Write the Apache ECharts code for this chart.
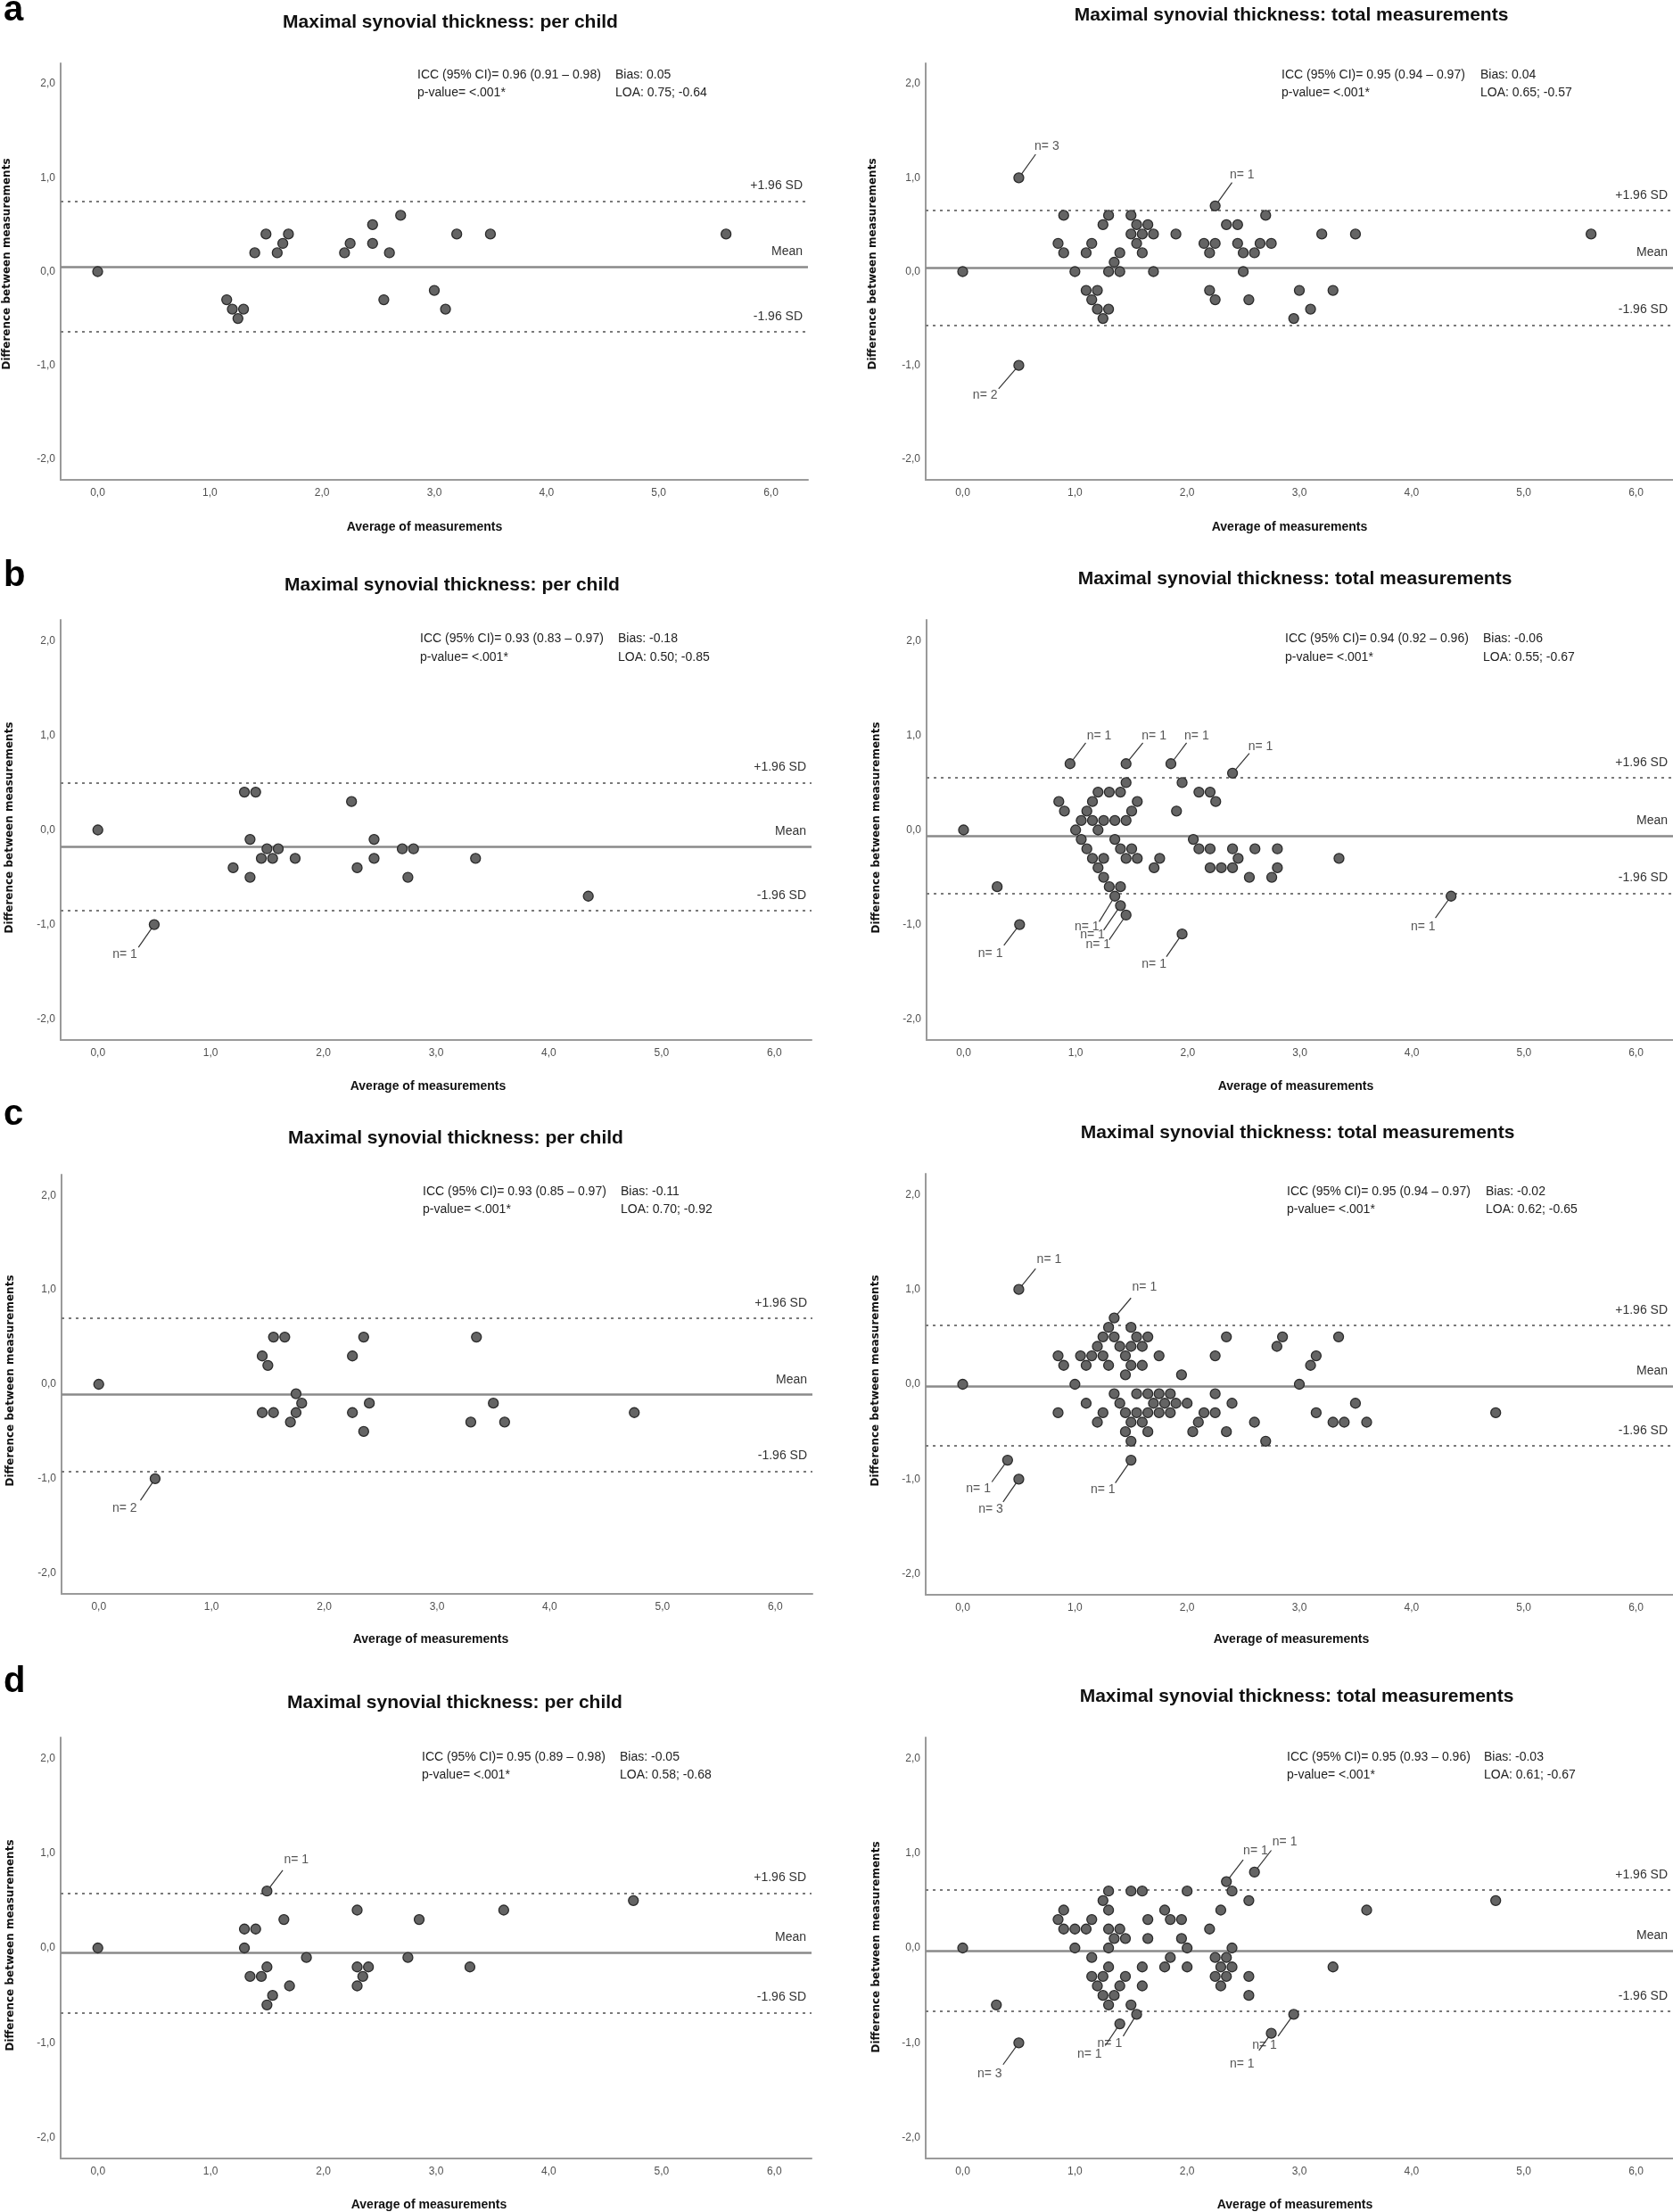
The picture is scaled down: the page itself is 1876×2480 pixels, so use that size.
<!DOCTYPE html>
<html>
<head>
<meta charset="utf-8">
<script src="https://cdn.jsdelivr.net/npm/echarts@6/dist/echarts.min.js"></script>
<style>
  html, body { margin: 0; padding: 0; background: #ffffff; }
  #chart { width: 1876px; height: 2480px; }
</style>
</head>
<body>
<div id="chart"></div>
<script>
// ---------- tick labels ----------
const xTicks = [0, 1, 2, 3, 4, 5, 6];
const yTicks = [-2, -1, 0, 1, 2];
const panelLetters = ['a', 'b', 'c', 'd'];
const titlePerChild = 'Maximal synovial thickness: per child';
const titleTotal = 'Maximal synovial thickness: total measurements';
const xAxisName = 'Average of measurements';
const yAxisName = 'Difference between measurements';

// ---------- panel a ----------
const aChildX = [0, 1.15, 1.2, 1.25, 1.3, 1.4, 1.5, 1.6, 1.65, 1.7, 2.2, 2.25, 2.45, 2.45, 2.55, 2.6, 2.7, 3.0, 3.1, 3.2, 3.5, 5.6];
const aChildY = [0, -0.3, -0.4, -0.5, -0.4, 0.2, 0.4, 0.2, 0.3, 0.4, 0.2, 0.3, 0.5, 0.3, -0.3, 0.2, 0.6, -0.2, -0.4, 0.4, 0.4, 0.4];
const aChildStats = ['0.96 (0.91 – 0.98)', 0.05, 0.75, -0.64];
const aChildNotes = [];

const aTotalX = [0, 0.5, 0.5, 0.85, 0.9, 0.9, 1.0, 1.1, 1.1, 1.15, 1.15, 1.2, 1.2, 1.25, 1.25, 1.3, 1.3, 1.3, 1.35, 1.4, 1.4, 1.5, 1.5, 1.55, 1.55, 1.6, 1.6, 1.65, 1.7, 1.7, 1.9, 2.15, 2.2, 2.2, 2.25, 2.25, 2.25, 2.35, 2.45, 2.45, 2.5, 2.5, 2.55, 2.6, 2.65, 2.7, 2.75, 2.95, 3.0, 3.1, 3.2, 3.3, 3.5, 5.6];
const aTotalY = [0, 1.0, -1.0, 0.3, 0.6, 0.2, 0, 0.2, -0.2, 0.3, -0.3, -0.2, -0.4, 0.5, -0.5, 0.6, 0, -0.4, 0.1, 0.2, 0, 0.6, 0.4, 0.5, 0.3, 0.4, 0.2, 0.5, 0.4, 0, 0.4, 0.3, 0.2, -0.2, 0.7, 0.3, -0.3, 0.5, 0.5, 0.3, 0.2, 0, -0.3, 0.2, 0.3, 0.6, 0.3, -0.5, -0.2, -0.4, 0.4, -0.2, 0.4, 0.4];
const aTotalStats = ['0.95 (0.94 – 0.97)', 0.04, 0.65, -0.57];
// [pointX, pointY, leaderEndX, leaderEndY, labelX, labelY, text]
const aTotalNotes = [
  [0.5, 1.0, 0.65, 1.25, 0.75, 1.33, 'n= 3'],
  [2.25, 0.7, 2.4, 0.95, 2.49, 1.03, 'n= 1'],
  [0.5, -1.0, 0.32, -1.25, 0.2, -1.32, 'n= 2']
];

// ---------- panel b ----------
const bChildX = [0, 0.5, 1.2, 1.3, 1.35, 1.35, 1.4, 1.45, 1.5, 1.55, 1.6, 1.75, 2.25, 2.3, 2.45, 2.45, 2.7, 2.75, 2.8, 3.35, 4.35];
const bChildY = [0, -1.0, -0.4, 0.4, -0.1, -0.5, 0.4, -0.3, -0.2, -0.3, -0.2, -0.3, 0.3, -0.4, -0.1, -0.3, -0.2, -0.5, -0.2, -0.3, -0.7];
const bChildStats = ['0.93 (0.83 – 0.97)', -0.18, 0.50, -0.85];
const bChildNotes = [
  [0.5, -1.0, 0.36, -1.24, 0.24, -1.32, 'n= 1']
];

const bTotalX = [0, 0.3, 0.5, 0.85, 0.9, 0.95, 1.0, 1.05, 1.05, 1.1, 1.1, 1.15, 1.15, 1.15, 1.2, 1.2, 1.2, 1.25, 1.25, 1.25, 1.3, 1.3, 1.35, 1.35, 1.35, 1.4, 1.4, 1.4, 1.4, 1.45, 1.45, 1.45, 1.45, 1.45, 1.5, 1.5, 1.55, 1.55, 1.7, 1.75, 1.85, 1.9, 1.95, 1.95, 2.05, 2.1, 2.1, 2.2, 2.2, 2.2, 2.25, 2.3, 2.4, 2.4, 2.4, 2.45, 2.55, 2.6, 2.75, 2.8, 2.8, 3.35, 4.35];
const bTotalY = [0, -0.6, -1.0, 0.3, 0.2, 0.7, 0, 0.1, -0.1, 0.2, -0.2, 0.3, 0.1, -0.3, 0.4, 0, -0.4, 0.1, -0.3, -0.5, 0.4, -0.6, 0.1, -0.1, -0.7, 0.4, -0.2, -0.6, -0.8, 0.7, 0.5, 0.1, -0.3, -0.9, 0.2, -0.2, 0.3, -0.3, -0.4, -0.3, 0.7, 0.2, 0.5, -1.1, -0.1, 0.4, -0.2, 0.4, -0.2, -0.4, 0.3, -0.4, 0.6, -0.2, -0.4, -0.3, -0.5, -0.2, -0.5, -0.2, -0.4, -0.3, -0.7];
const bTotalStats = ['0.94 (0.92 – 0.96)', -0.06, 0.55, -0.67];
const bTotalNotes = [
  [0.95, 0.7, 1.09, 0.92, 1.21, 0.99, 'n= 1'],
  [1.45, 0.7, 1.6, 0.92, 1.7, 0.99, 'n= 1'],
  [1.85, 0.7, 1.99, 0.92, 2.08, 0.99, 'n= 1'],
  [2.4, 0.6, 2.55, 0.81, 2.65, 0.88, 'n= 1'],
  [1.35, -0.7, 1.21, -0.97, 1.1, -1.02, 'n= 1'],
  [1.4, -0.8, 1.25, -1.06, 1.15, -1.11, 'n= 1'],
  [1.45, -0.9, 1.3, -1.16, 1.2, -1.21, 'n= 1'],
  [0.5, -1.0, 0.36, -1.22, 0.24, -1.31, 'n= 1'],
  [1.95, -1.1, 1.81, -1.34, 1.7, -1.42, 'n= 1'],
  [4.35, -0.7, 4.21, -0.93, 4.1, -1.02, 'n= 1']
];

// ---------- panel c ----------
const cChildX = [0, 0.5, 1.45, 1.45, 1.5, 1.55, 1.55, 1.65, 1.7, 1.75, 1.75, 1.8, 2.25, 2.25, 2.35, 2.35, 2.4, 3.3, 3.35, 3.5, 3.6, 4.75];
const cChildY = [0, -1.0, 0.3, -0.3, 0.2, 0.5, -0.3, 0.5, -0.4, -0.1, -0.3, -0.2, 0.3, -0.3, 0.5, -0.5, -0.2, -0.4, 0.5, -0.2, -0.4, -0.3];
const cChildStats = ['0.93 (0.85 – 0.97)', -0.11, 0.70, -0.92];
const cChildNotes = [
  [0.5, -1.0, 0.37, -1.23, 0.23, -1.31, 'n= 2']
];

const cTotalX = [0, 0.4, 0.5, 0.5, 0.85, 0.85, 0.9, 1.0, 1.05, 1.1, 1.1, 1.15, 1.2, 1.2, 1.25, 1.25, 1.25, 1.3, 1.3, 1.35, 1.35, 1.35, 1.4, 1.4, 1.45, 1.45, 1.45, 1.45, 1.5, 1.5, 1.5, 1.5, 1.5, 1.5, 1.55, 1.55, 1.55, 1.6, 1.6, 1.6, 1.65, 1.65, 1.65, 1.65, 1.7, 1.75, 1.75, 1.75, 1.8, 1.85, 1.85, 1.9, 1.95, 2.0, 2.05, 2.1, 2.15, 2.25, 2.25, 2.25, 2.35, 2.35, 2.4, 2.6, 2.7, 2.8, 2.85, 3.0, 3.1, 3.15, 3.15, 3.3, 3.35, 3.4, 3.5, 3.6, 4.75];
const cTotalY = [0, -0.8, 1.0, -1.0, 0.3, -0.3, 0.2, 0, 0.3, 0.2, -0.2, 0.3, 0.4, -0.4, 0.5, 0.3, -0.3, 0.6, 0.2, 0.7, 0.5, -0.1, 0.4, -0.2, 0.3, 0.1, -0.3, -0.5, 0.6, 0.4, 0.2, -0.4, -0.6, -0.8, 0.5, -0.1, -0.3, 0.4, 0.2, -0.4, 0.5, -0.1, -0.3, -0.5, -0.2, 0.3, -0.1, -0.3, -0.2, -0.1, -0.3, -0.2, 0.1, -0.2, -0.5, -0.4, -0.3, 0.3, -0.1, -0.3, 0.5, -0.5, -0.2, -0.4, -0.6, 0.4, 0.5, 0, 0.2, 0.3, -0.3, -0.4, 0.5, -0.4, -0.2, -0.4, -0.3];
const cTotalStats = ['0.95 (0.94 – 0.97)', -0.02, 0.62, -0.65];
const cTotalNotes = [
  [0.5, 1.0, 0.65, 1.22, 0.77, 1.32, 'n= 1'],
  [1.35, 0.7, 1.5, 0.91, 1.62, 1.02, 'n= 1'],
  [0.4, -0.8, 0.26, -1.03, 0.14, -1.1, 'n= 1'],
  [0.5, -1.0, 0.36, -1.24, 0.25, -1.32, 'n= 3'],
  [1.5, -0.8, 1.36, -1.04, 1.25, -1.11, 'n= 1']
];

// ---------- panel d ----------
const dChildX = [0, 1.3, 1.3, 1.35, 1.4, 1.45, 1.5, 1.5, 1.5, 1.55, 1.65, 1.7, 1.85, 2.3, 2.3, 2.3, 2.35, 2.4, 2.75, 2.85, 3.3, 3.6, 4.75];
const dChildY = [0, 0.2, 0, -0.3, 0.2, -0.3, 0.6, -0.2, -0.6, -0.5, 0.3, -0.4, -0.1, 0.4, -0.2, -0.4, -0.3, -0.2, -0.1, 0.3, -0.2, 0.4, 0.5];
const dChildStats = ['0.95 (0.89 – 0.98)', -0.05, 0.58, -0.68];
const dChildNotes = [
  [1.5, 0.6, 1.64, 0.82, 1.76, 0.93, 'n= 1']
];

const dTotalX = [0, 0.3, 0.5, 0.85, 0.9, 0.9, 1.0, 1.0, 1.1, 1.15, 1.15, 1.15, 1.2, 1.25, 1.25, 1.25, 1.3, 1.3, 1.3, 1.3, 1.3, 1.3, 1.35, 1.35, 1.4, 1.4, 1.4, 1.45, 1.45, 1.5, 1.5, 1.55, 1.6, 1.6, 1.6, 1.65, 1.65, 1.8, 1.8, 1.85, 1.85, 1.95, 1.95, 2.0, 2.0, 2.0, 2.2, 2.25, 2.25, 2.3, 2.3, 2.3, 2.35, 2.35, 2.35, 2.4, 2.4, 2.4, 2.55, 2.55, 2.55, 2.6, 2.75, 2.95, 3.3, 3.6, 4.75];
const dTotalY = [0, -0.6, -1.0, 0.3, 0.4, 0.2, 0.2, 0, 0.2, 0.3, -0.1, -0.3, -0.4, 0.5, -0.3, -0.5, 0.6, 0.4, 0.2, 0, -0.2, -0.6, 0.1, -0.5, 0.2, -0.4, -0.8, 0.1, -0.3, 0.6, -0.6, -0.7, 0.6, -0.2, -0.4, 0.3, 0.1, 0.4, -0.2, 0.3, -0.1, 0.3, 0.1, 0.6, 0, -0.2, 0.2, -0.1, -0.3, 0.4, -0.2, -0.4, 0.7, -0.1, -0.3, 0.6, 0, -0.2, 0.5, -0.3, -0.5, 0.8, -0.9, -0.7, -0.2, 0.4, 0.5];
const dTotalStats = ['0.95 (0.93 – 0.96)', -0.03, 0.61, -0.67];
const dTotalNotes = [
  [2.35, 0.7, 2.5, 0.93, 2.61, 1.02, 'n= 1'],
  [2.6, 0.8, 2.75, 1.03, 2.87, 1.12, 'n= 1'],
  [1.55, -0.7, 1.43, -0.93, 1.31, -1.01, 'n= 1'],
  [1.4, -0.8, 1.27, -1.03, 1.13, -1.12, 'n= 1'],
  [2.95, -0.7, 2.81, -0.93, 2.69, -1.03, 'n= 1'],
  [2.75, -0.9, 2.64, -1.08, 2.49, -1.22, 'n= 1'],
  [0.5, -1.0, 0.36, -1.23, 0.24, -1.33, 'n= 3']
];

// ---------- assemble panels ----------
const panels = [
  { x: aChildX, y: aChildY, stats: aChildStats, notes: aChildNotes, title: titlePerChild },
  { x: aTotalX, y: aTotalY, stats: aTotalStats, notes: aTotalNotes, title: titleTotal },
  { x: bChildX, y: bChildY, stats: bChildStats, notes: bChildNotes, title: titlePerChild },
  { x: bTotalX, y: bTotalY, stats: bTotalStats, notes: bTotalNotes, title: titleTotal },
  { x: cChildX, y: cChildY, stats: cChildStats, notes: cChildNotes, title: titlePerChild },
  { x: cTotalX, y: cTotalY, stats: cTotalStats, notes: cTotalNotes, title: titleTotal },
  { x: dChildX, y: dChildY, stats: dChildStats, notes: dChildNotes, title: titlePerChild },
  { x: dTotalX, y: dTotalY, stats: dTotalStats, notes: dTotalNotes, title: titleTotal }
];

// layout (pixels)
const layouts = [
  { left: 68, top: 71, width: 838, height: 467, title: [505, 25], stat: [468, 690, 84, 104], xName: [476, 591], yName: [8, 296], letter: 12 },
  { left: 1038, top: 71, width: 838, height: 467, title: [1448, 17], stat: [1437, 1660, 84, 104], xName: [1446, 591], yName: [979, 296] },
  { left: 68, top: 695, width: 842, height: 471, title: [507, 656], stat: [471, 693, 716, 737], xName: [480, 1218], yName: [11, 928], letter: 646 },
  { left: 1039, top: 695, width: 837, height: 471, title: [1452, 649], stat: [1441, 1663, 716, 737], xName: [1453, 1218], yName: [983, 928] },
  { left: 69, top: 1317, width: 842, height: 470, title: [511, 1276], stat: [474, 696, 1336, 1356], xName: [483, 1838], yName: [12, 1548], letter: 1250 },
  { left: 1038, top: 1316, width: 838, height: 472, title: [1455, 1270], stat: [1443, 1666, 1336, 1356], xName: [1448, 1838], yName: [982, 1548] },
  { left: 68, top: 1948, width: 842, height: 472, title: [510, 1909], stat: [473, 695, 1970, 1990], xName: [481, 2472], yName: [12, 2181], letter: 1886 },
  { left: 1038, top: 1948, width: 838, height: 472, title: [1454, 1902], stat: [1443, 1664, 1970, 1990], xName: [1452, 2472], yName: [983, 2183] }
];

const FONT = '"Liberation Sans", Arial, Helvetica, sans-serif';
const fmtTick = v => (v < 0 ? '-' : '') + Math.abs(v).toFixed(1).replace('.', ',');
const fmt2 = v => v.toFixed(2);

const grids = [], xAxes = [], yAxes = [], series = [], graphics = [];

function textEl(x, y, text, opts) {
  const o = Object.assign({ size: 14, weight: 'normal', family: FONT, color: '#222', align: 'left', valign: 'middle', rotation: 0 }, opts || {});
  return {
    type: 'text', x: x, y: y, rotation: o.rotation, silent: true, z: 10,
    style: {
      text: text, fill: o.color, fontSize: o.size, fontWeight: o.weight, fontFamily: o.family,
      textAlign: o.align, align: o.align, textVerticalAlign: o.valign, verticalAlign: o.valign
    }
  };
}

panels.forEach((p, i) => {
  const L = layouts[i];
  grids.push({ left: L.left, top: L.top, width: L.width, height: L.height, containLabel: false });
  xAxes.push({
    type: 'value', gridIndex: i, min: -0.33, max: 6.33,
    axisLine: { show: true, onZero: false, lineStyle: { color: '#9a9a9a', width: 2 } },
    axisTick: { show: false }, splitLine: { show: false },
    axisLabel: { customValues: xTicks, formatter: fmtTick, color: '#505050', fontSize: 12, fontFamily: FONT, margin: 9 }
  });
  yAxes.push({
    type: 'value', gridIndex: i, min: -2.22, max: 2.22,
    axisLine: { show: true, onZero: false, lineStyle: { color: '#9a9a9a', width: 2 } },
    axisTick: { show: false }, splitLine: { show: false },
    axisLabel: { customValues: yTicks, formatter: fmtTick, color: '#505050', fontSize: 12, fontFamily: FONT, margin: 6 }
  });

  const bias = p.stats[1], upper = p.stats[2], lower = p.stats[3];
  // measurement points + reference lines
  series.push({
    type: 'scatter', xAxisIndex: i, yAxisIndex: i, z: 5,
    symbol: 'circle', symbolSize: 11,
    itemStyle: { color: '#646464', borderColor: '#2b2b2b', borderWidth: 1.3, opacity: 1 },
    data: p.x.map((xv, k) => [xv, p.y[k]]),
    markLine: {
      silent: true, symbol: 'none', animation: false, z: 2,
      label: { show: true, position: 'insideEndTop', distance: [6, 10], color: '#333', fontSize: 14, fontFamily: FONT },
      data: [
        { yAxis: bias, label: { formatter: 'Mean' }, lineStyle: { type: 'solid', color: '#8a8a8a', width: 2.5 } },
        { yAxis: upper, label: { formatter: '+1.96 SD' }, lineStyle: { type: [3, 5], color: '#7a7a7a', width: 2 } },
        { yAxis: lower, label: { formatter: '-1.96 SD' }, lineStyle: { type: [3, 5], color: '#7a7a7a', width: 2 } }
      ]
    }
  });
  // n= annotations
  if (p.notes.length) {
    series.push({
      type: 'scatter', xAxisIndex: i, yAxisIndex: i, z: 3,
      symbolSize: 0, silent: true,
      data: p.notes.map(n => ({ value: [n[4], n[5]], name: n[6] })),
      label: { show: true, position: 'inside', formatter: '{b}', color: '#2a2a2a', fontSize: 14, fontFamily: FONT, textBorderWidth: 0 },
      markLine: {
        silent: true, symbol: 'none', animation: false,
        label: { show: false },
        lineStyle: { type: 'solid', color: '#333', width: 1.2 },
        data: p.notes.map(n => [{ coord: [n[0], n[1]] }, { coord: [n[2], n[3]] }])
      }
    });
  }

  // texts
  graphics.push(textEl(L.title[0], L.title[1], p.title, { size: 21, weight: 'bold', color: '#111', align: 'center' }));
  graphics.push(textEl(L.stat[0], L.stat[2], 'ICC (95% CI)= ' + p.stats[0], { size: 14 }));
  graphics.push(textEl(L.stat[0], L.stat[3], 'p-value= <.001*', { size: 14 }));
  graphics.push(textEl(L.stat[1], L.stat[2], 'Bias: ' + fmt2(bias), { size: 14 }));
  graphics.push(textEl(L.stat[1], L.stat[3], 'LOA: ' + fmt2(upper) + '; ' + fmt2(lower), { size: 14 }));
  graphics.push(textEl(L.xName[0], L.xName[1], xAxisName, { size: 14, weight: 'bold', color: '#111', align: 'center' }));
  graphics.push(textEl(L.yName[0], L.yName[1], yAxisName, { size: 12, weight: 'bold', color: '#111', align: 'center', family: '"DejaVu Sans", Verdana, sans-serif', rotation: Math.PI / 2 }));
  if (L.letter !== undefined) {
    graphics.push(textEl(4, L.letter, panelLetters[i / 2], { size: 40, weight: 'bold', color: '#000' }));
  }
});

const chart = echarts.init(document.getElementById('chart'), null, { renderer: 'canvas' });
chart.setOption({
  animation: false,
  backgroundColor: '#ffffff',
  grid: grids,
  xAxis: xAxes,
  yAxis: yAxes,
  series: series,
  graphic: graphics
});
</script>
</body>
</html>
